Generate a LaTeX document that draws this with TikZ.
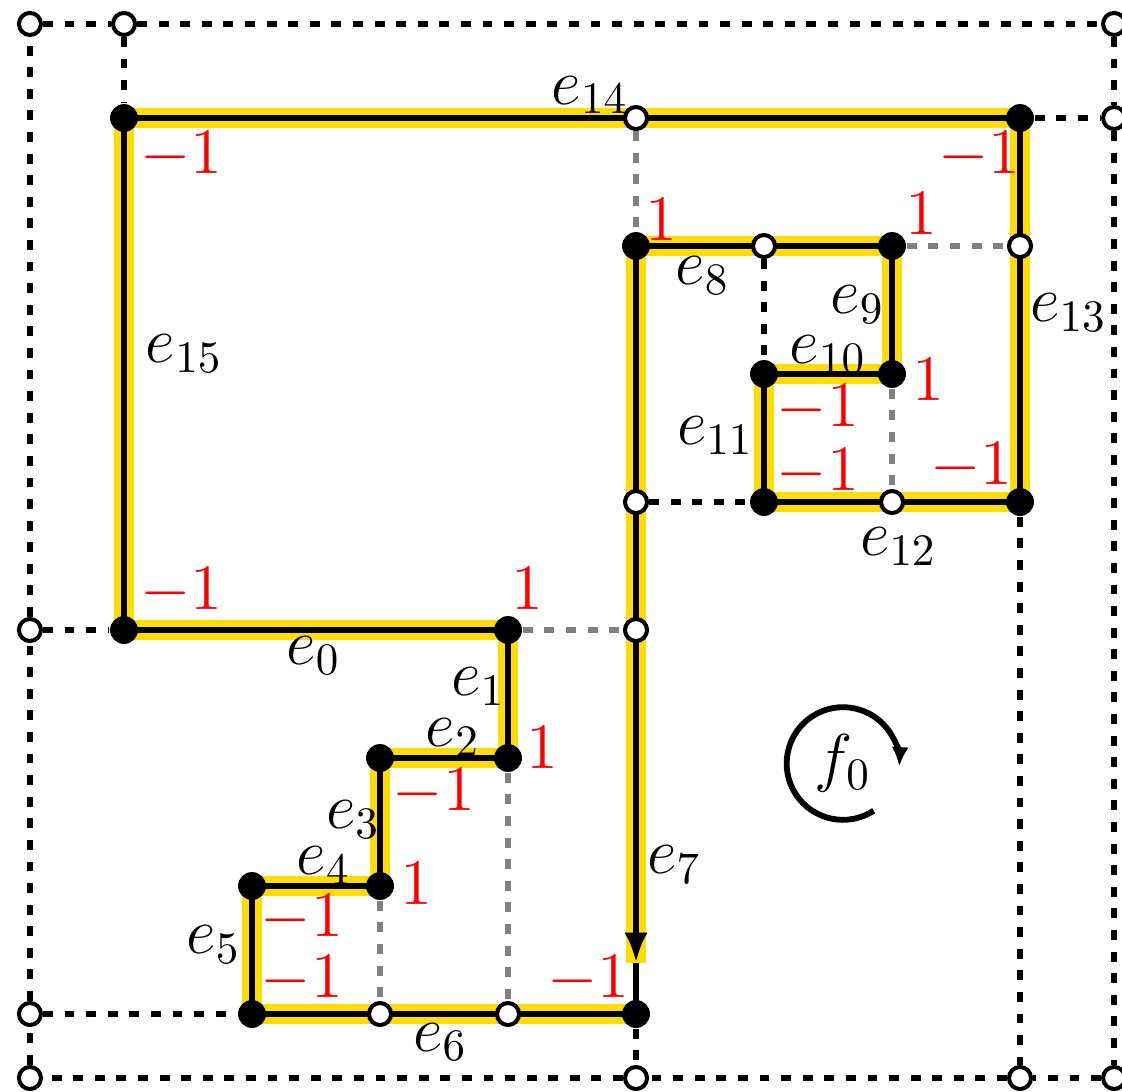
\documentclass[tikz,border=0pt]{standalone}
\usepackage{tikz}
\usetikzlibrary{arrows.meta,backgrounds}
\usepackage{xcolor}
\definecolor{hilite}{HTML}{FFDD00}
\definecolor{ghostgray}{HTML}{808080}
\definecolor{wtred}{HTML}{FF0000}

\begin{document}
\begin{tikzpicture}[
    vtx/.style={circle,fill=black,inner sep=0pt,minimum size=6.2pt},
    hole/.style={circle,draw=black,fill=white,line width=0.9pt,inner sep=0pt,minimum size=4.9pt},
    gridline/.style={line width=1.2pt,dash pattern=on 2.2pt off 2.6pt},
    ghost/.style={gridline,draw=ghostgray},
    cyc/.style={line width=1.4pt},
    glow/.style={line width=4.6pt,draw=hilite},
    lbl/.style={font=\Large},
    wt/.style={font=\Large,text=wtred}
  ]
  \useasboundingbox (-0.969,-0.602) rectangle (7.797,7.922);

  % corners of the cycle
  \foreach \n/\x/\y in {p0/0/3,p1/3/3,p2/3/2,p3/2/2,p4/2/1,p5/1/1,p6/1/0,p7/4/0,
                        p8/4/6,p9/6/6,p10/6/5,p11/5/5,p12/5/4,p13/7/4,p14/7/7,p15/0/7}
    \node[vtx] (\n) at (\x,\y) {};
  % open points on the cycle and on the frame
  \foreach \n/\x/\y in {q0/4/7,q1/5/6,q2/7/6,q3/6/4,q4/4/4,q5/4/3,q6/2/0,q7/3/0,
                        tl/-0.735/7.735,tt/0/7.735,tr/7.735/7.735,rr/7.735/7,
                        ll/-0.735/3,lb/-0.735/0,bl/-0.735/-0.5,bm/4/-0.5,bk/7/-0.5,br/7.735/-0.5}
    \node[hole] (\n) at (\x,\y) {};
  \coordinate (tip) at (4,0.4);

  % highlighted cycle behind the points
  \begin{scope}[on background layer]
    \draw[glow] (tip) -- (p8.center) -- (p9.center) -- (p10.center) -- (p11.center)
      -- (p12.center) -- (p13.center) -- (p14.center) -- (p15.center) -- (p0.center)
      -- (p1.center) -- (p2.center) -- (p3.center) -- (p4.center) -- (p5.center)
      -- (p6.center) -- (p7.center);
    \draw[cyc] (p8.center) -- (p9.center) -- (p10.center) -- (p11.center)
      -- (p12.center) -- (p13.center) -- (p14.center) -- (p15.center) -- (p0.center)
      -- (p1.center) -- (p2.center) -- (p3.center) -- (p4.center) -- (p5.center)
      -- (p6.center) -- (p7.center) -- (tip);
    \draw[cyc,-{Latex[length=6.7pt,width=5.2pt]}] (p8.center) -- (tip);
  \end{scope}

  % dashed frame and links
  \foreach \a/\b in {tl/tt,tt/tr,tr/rr,rr/br,br/bk,bk/bm,bm/bl,bl/lb,lb/ll,ll/tl,
                     tt/p15,p14/rr,q1/p11,q4/p12,ll/p0,lb/p6,p7/bm,p13/bk}
    \draw[gridline] (\a) -- (\b);
  \foreach \a/\b in {q0/p8,p9/q2,p10/q3,p1/q5,p2/q7,p4/q6}
    \draw[ghost] (\a) -- (\b);

  % edge labels
  \foreach \n/\x/\y in {0/1.48/2.80,1/2.77/2.56,2/2.57/2.16,3/1.79/1.52,4/1.56/1.16,
                        5/0.70/0.54,6/2.47/-0.22,7/4.30/1.17,8/4.52/5.77,9/5.73/5.54,
                        10/5.50/5.15,11/4.62/4.52,12/6.05/3.65,13/7.38/5.48,
                        14/3.64/7.18,15/0.47/5.16}
    \node[lbl] (e\n) at (\x,\y) {$e_{\n}$};

  % weights at the corners
  \foreach \n/\x/\y/\v in {0/0.45/3.30/-1,1/3.15/3.32/1,2/3.27/2.08/1,3/2.42/1.73/-1,
                           4/2.28/1.02/1,5/1.39/0.75/-1,6/1.39/0.27/-1,7/3.63/0.27/-1,
                           8/4.20/6.21/1,9/6.23/6.25/1,10/6.28/4.96/1,11/5.42/4.73/-1,
                           12/5.42/4.23/-1,13/6.62/4.28/-1,14/6.68/6.71/-1,15/0.45/6.71/-1}
    \node[wt] (w\n) at (\x,\y) {$\v$};

  % face with its turning
  \node[lbl] (f0) at (5.617,1.957) {$f_0$};
  \draw[line width=1.3pt,-{Latex[length=4.3pt,width=3.8pt]}]
    (f0.center) ++(-57:0.44) arc[start angle=-57,end angle=-363,radius=0.44];
\end{tikzpicture}
\end{document}
